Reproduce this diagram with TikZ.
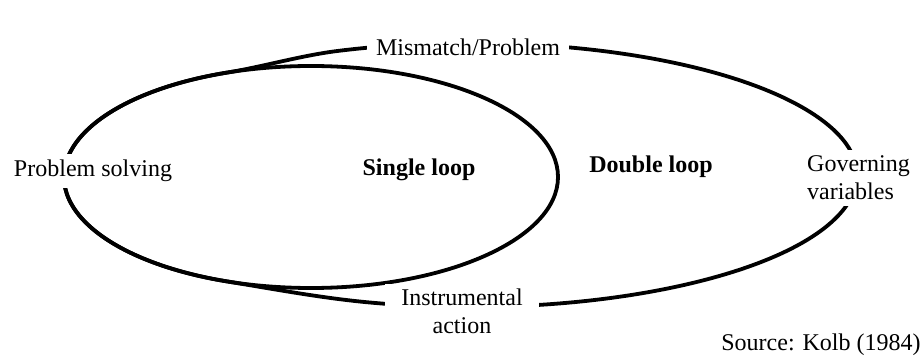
\documentclass[tikz,border=0pt]{standalone}
\usepackage{fontspec}
\setmainfont{Liberation Serif}
\begin{document}
\begin{tikzpicture}[x=1pt,y=1pt,line cap=round,line join=round,
  loopline/.style={line width=3.8pt},
  lbl/.style={fill=white,inner xsep=9pt,inner ysep=5pt,font=\fontsize{24}{28}\selectfont},
  loopname/.style={font=\fontsize{24}{28}\selectfont\bfseries}]
\useasboundingbox (0,0) rectangle (924,362);
% single loop
\draw[loopline] (311,185) ellipse [x radius=247,y radius=111];
% double loop: shares the left arc of the single loop
\draw[loopline] ([shift={(311,185)}]110:247 and 111) coordinate (topsplit)
  arc[start angle=110,end angle=250,x radius=247,y radius=111] coordinate (botsplit)
  .. controls +(-9.3:48) and +(174.8:48) .. ([shift={(470,187)}]255:387 and 132)
  arc[start angle=255,end angle=470,x radius=387,y radius=132]
  .. controls +(187.1:37) and +(9.3:37) .. (topsplit);
\node[lbl,inner ysep=3pt] (mismatch) at (468,315) {Mismatch/Problem};
\node[lbl,inner ysep=6pt] (solving) at (93,191) {Problem solving};
\node[lbl,anchor=west,align=left,inner xsep=5pt,inner ysep=6pt] (governing) at (802,184) {Governing\\variables};
\node[lbl,align=center,inner xsep=16pt] (instrumental) at (462,51) {Instrumental\\action};
\node[loopname] (singleloop) at (419,192) {Single loop};
\node[loopname] (doubleloop) at (651,195) {Double loop};
\node[font=\fontsize{24}{28}\selectfont] (source) at (821,17) {Source: Kolb (1984)};
\end{tikzpicture}
\end{document}
